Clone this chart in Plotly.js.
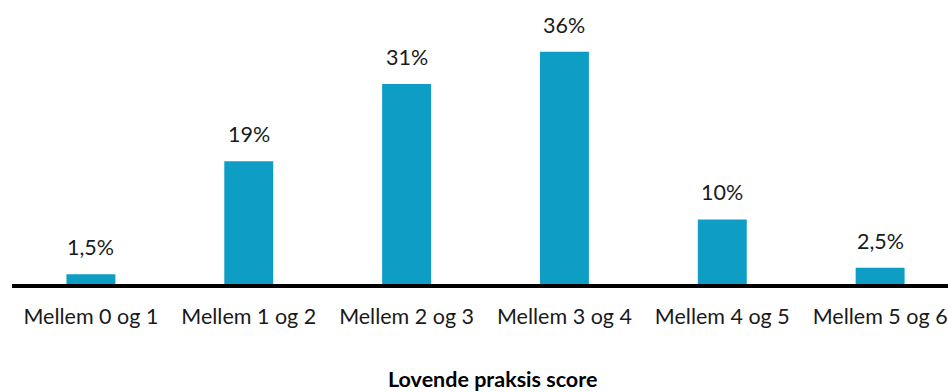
<!DOCTYPE html>
<html>
<head>
<meta charset="utf-8">
<script src="https://cdn.plot.ly/plotly-3.0.1.min.js"></script>
<style>html,body{margin:0;padding:0;background:#fff;}#chart{width:948px;height:392px;}</style>
</head>
<body>
<div id="chart"></div>
<script>
const categories = ["Mellem 0 og 1","Mellem 1 og 2","Mellem 2 og 3","Mellem 3 og 4","Mellem 4 og 5","Mellem 5 og 6"];
const values = [1.5, 19, 31, 36, 10, 2.5];
const valueLabels = ["1,5%","19%","31%","36%","10%","2,5%"];
const axisTitle = "Lovende praksis score";

const FONT = "Lato, 'Open Sans', sans-serif";
const trace = {
  type: "bar",
  x: categories,
  y: values,
  marker: {color: "#0e9dc5"},
  hoverinfo: "none"
};
const annotations = categories.map((c, i) => ({
  x: c, y: values[i], xref: "x", yref: "y",
  text: valueLabels[i], showarrow: false,
  yanchor: "bottom", yshift: 12,
  font: {family: FONT, size: 21.5, color: "#1a1a1a"}
}));
annotations.push({
  x: 0.513, y: 0, xref: "paper", yref: "paper",
  yanchor: "middle", yshift: -95, showarrow: false,
  text: "<b>" + axisTitle + "</b>",
  font: {family: FONT, size: 21.5, color: "#000"}
});
const layout = {
  width: 948, height: 392,
  margin: {l: 12, r: 0, t: 0, b: 108},
  paper_bgcolor: "#fff", plot_bgcolor: "#fff",
  bargap: 0.69,
  showlegend: false,
  xaxis: {
    type: "category",
    range: [-0.5, 5.43],
    showline: true, linecolor: "#000", linewidth: 4,
    ticks: "", showgrid: false, zeroline: false,
    ticklabelstandoff: 10,
    tickfont: {family: FONT, size: 21.5, color: "#1a1a1a"},
    fixedrange: true
  },
  yaxis: {
    range: [0, 44],
    visible: false, showgrid: false, zeroline: false,
    fixedrange: true
  },
  annotations: annotations
};
Plotly.newPlot("chart", [trace], layout, {displayModeBar: false, staticPlot: true});
</script>
</body>
</html>
